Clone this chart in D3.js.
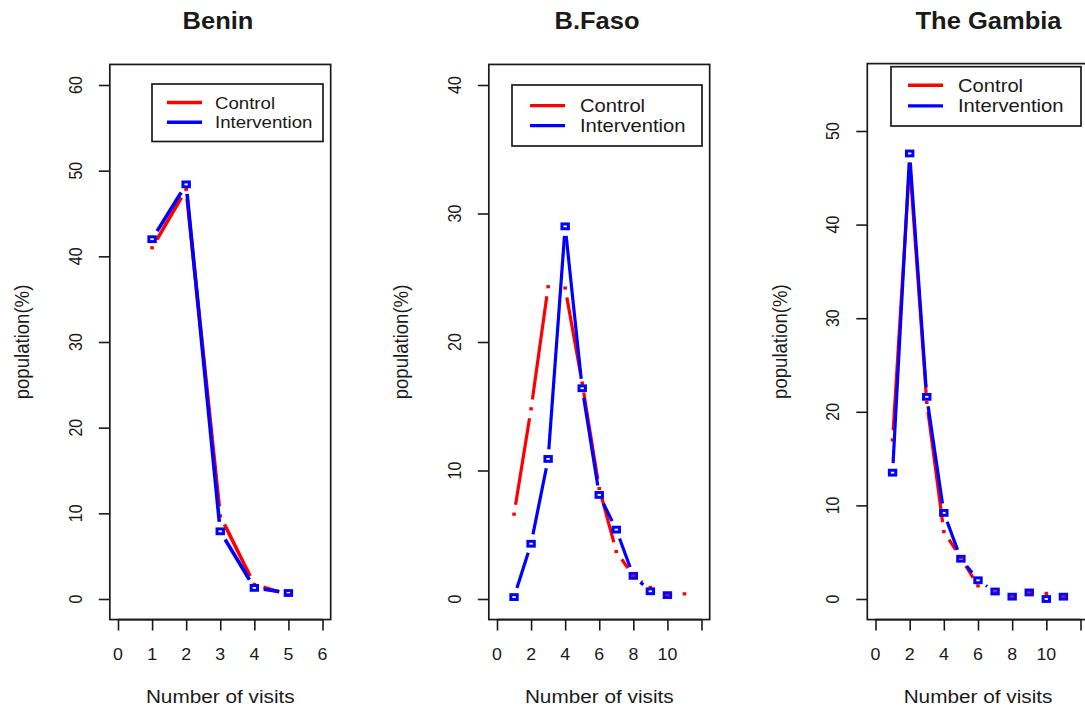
<!DOCTYPE html>
<html>
<head>
<meta charset="utf-8">
<script src="https://cdn.jsdelivr.net/npm/d3@7"></script>
<style>
  html, body { margin: 0; padding: 0; background: #fff; }
  svg { display: block; }
</style>
</head>
<body>
<div id="chart"></div>
<script>
// ---------------- DATA ----------------
const panelTitles = ["Benin", "B.Faso", "The Gambia"];
const seriesNames = ["Control", "Intervention"];
const xAxisTitle = "Number of visits";
const yAxisTitle = "population(%)";

const beninVisits = [1, 2, 3, 4, 5];
const beninControl = [41.0, 47.8, 9.7, 1.7, 0.5];
const beninIntervention = [42.0, 48.4, 7.9, 1.3, 0.7];

const bfasoVisitsControl = [1, 2, 3, 4, 5, 6, 7, 8, 9, 10, 11];
const bfasoControl = [6.6, 14.8, 24.3, 24.2, 16.8, 8.6, 3.7, 1.8, 0.9, 0.3, 0.4];
const bfasoVisitsIntervention = [1, 2, 3, 4, 5, 6, 7, 8, 9, 10];
const bfasoIntervention = [0.15, 4.3, 10.9, 29.0, 16.4, 8.1, 5.4, 1.8, 0.6, 0.3];

const gambiaVisits = [1, 2, 3, 4, 5, 6, 7, 8, 9, 10, 11];
const gambiaControl = [17.0, 46.5, 21.0, 7.2, 4.4, 1.4, 0.7, 0.2, 0.7, 0.6, 0.2];
const gambiaIntervention = [13.5, 47.6, 21.6, 9.2, 4.3, 2.0, 0.8, 0.25, 0.7, 0.0, 0.25];

const beninXTicks = [0, 1, 2, 3, 4, 5, 6];
const beninXTickLabels = ["0", "1", "2", "3", "4", "5", "6"];
const wideXTicks = [0, 2, 4, 6, 8, 10, 12];
const wideXTickLabels = ["0", "2", "4", "6", "8", "10", ""];
const beninYTicks = [0, 10, 20, 30, 40, 50, 60];
const bfasoYTicks = [0, 10, 20, 30, 40];
const gambiaYTicks = [0, 10, 20, 30, 40, 50];

// ---------------- LAYOUT ----------------
const W = 1085, H = 711;
const SX = 1.11;            // horizontal stretch of the original raster
const FONT = "'Liberation Sans', Arial, Helvetica, sans-serif";
const INK = "#1a1a1a";
const RED = "#ff0000", BLUE = "#0000ff";
const GAP = 9.5;
const yPix = [599, 85];

const panels = [
  { title: panelTitles[0], titleX: 218, xDomain: [0, 6], xRange: [118, 322.5],
    xTicks: beninXTicks, xLabels: beninXTickLabels,
    yDomain: [0, 60], yRange: yPix, yTicks: beninYTicks,
    control: [beninVisits, beninControl], interv: [beninVisits, beninIntervention],
    lw: 3.6,
    legend: { x: 152, y: 84, w: 171, h: 57.5, fs: 16.8, l0: 167, l1: 202, tx: 215, y1: 102.5, y2: 122.3 } },
  { title: panelTitles[1], titleX: 597, xDomain: [0, 12], xRange: [497, 701.5],
    xTicks: wideXTicks, xLabels: wideXTickLabels,
    yDomain: [0, 40], yRange: yPix, yTicks: bfasoYTicks,
    control: [bfasoVisitsControl, bfasoControl], interv: [bfasoVisitsIntervention, bfasoIntervention],
    lw: 3.2,
    legend: { x: 512, y: 85, w: 190, h: 61, fs: 18.2, l0: 530, l1: 565, tx: 580, y1: 105.6, y2: 125.6 } },
  { title: panelTitles[2], titleX: 988.5, xDomain: [0, 12], xRange: [875.5, 1080.5],
    xTicks: wideXTicks, xLabels: wideXTickLabels,
    yDomain: [0, 55], yRange: [599, 84.2], yTicks: gambiaYTicks,
    control: [gambiaVisits, gambiaControl], interv: [gambiaVisits, gambiaIntervention],
    lw: 3.2,
    legend: { x: 891, y: 66.7, w: 190, h: 59.3, fs: 18.2, l0: 908, l1: 943, tx: 958, y1: 85.3, y2: 105.9 } }
];

const svg = d3.select("#chart").append("svg")
  .attr("width", W).attr("height", H)
  .attr("viewBox", `0 0 ${W} ${H}`);
svg.append("rect").attr("width", W).attr("height", H).attr("fill", "#fff");

function stretchedText(g, x, y, txt, opts) {
  const rot = opts.rotate ? " rotate(-90)" : "";
  return g.append("text")
    .attr("transform", `translate(${x},${y}) scale(${SX},1)${rot}`)
    .attr("text-anchor", opts.anchor || "middle")
    .attr("font-family", FONT)
    .attr("font-size", opts.size)
    .attr("font-weight", opts.weight || "normal")
    .attr("fill", INK)
    .attr("dy", opts.dy || 0)
    .text(txt);
}

function gappedSegments(pts, gap) {
  const segs = [];
  for (let i = 0; i < pts.length - 1; i++) {
    const [x0, y0] = pts[i], [x1, y1] = pts[i + 1];
    const dx = x1 - x0, dy = y1 - y0, L = Math.hypot(dx, dy);
    if (L <= 2 * gap) continue;
    const ux = dx / L, uy = dy / L;
    segs.push([[x0 + ux * gap, y0 + uy * gap], [x1 - ux * gap, y1 - uy * gap]]);
  }
  return segs;
}

const line = d3.line();

panels.forEach(p => {
  const g = svg.append("g");
  const x = d3.scaleLinear().domain(p.xDomain).range(p.xRange);
  const y = d3.scaleLinear().domain(p.yDomain).range(p.yRange);
  const xs = p.xDomain[1] - p.xDomain[0], ys = p.yDomain[1] - p.yDomain[0];
  const fx0 = x(p.xDomain[0] - 0.04 * xs), fx1 = x(p.xDomain[1] + 0.04 * xs);
  const fy0 = y(p.yDomain[1] + 0.04 * ys), fy1 = y(p.yDomain[0] - 0.04 * ys);

  // series: control first, intervention on top
  [[p.control, RED, "dot"], [p.interv, BLUE, "square"]].forEach(([ser, col, shape]) => {
    const pts = ser[0].map((v, i) => [x(v), y(ser[1][i])]);
    gappedSegments(pts, GAP).forEach(seg => {
      g.append("path").attr("d", line(seg))
        .attr("fill", "none").attr("stroke", col)
        .attr("stroke-width", p.lw).attr("stroke-linecap", "butt");
    });
    if (shape === "dot") {
      g.selectAll(null).data(pts).enter().append("rect")
        .attr("x", d => d[0] - 1.8).attr("y", d => d[1] - 1.6)
        .attr("width", 3.6).attr("height", 3.2).attr("fill", col);
    } else {
      g.selectAll(null).data(pts).enter().append("rect")
        .attr("x", d => d[0] - 3.2).attr("y", d => d[1] - 2.4)
        .attr("width", 6.4).attr("height", 4.8)
        .attr("fill", "none").attr("stroke", col).attr("stroke-width", 3);
    }
  });

  // frame
  g.append("rect").attr("x", fx0).attr("y", fy0)
    .attr("width", fx1 - fx0).attr("height", fy1 - fy0)
    .attr("fill", "none").attr("stroke", INK).attr("stroke-width", 1.7);

  // x axis
  const xAxis = d3.axisBottom(x).tickValues(p.xTicks).tickSize(11).tickSizeOuter(0).tickFormat("");
  const xa = g.append("g").attr("transform", `translate(0,${fy1})`).call(xAxis);
  xa.select(".domain").remove();
  xa.selectAll(".tick line").attr("stroke", INK).attr("stroke-width", 1.6);
  g.append("line").attr("x1", x(p.xTicks[0])).attr("x2", x(p.xTicks[p.xTicks.length - 1]))
    .attr("y1", fy1).attr("y2", fy1).attr("stroke", INK).attr("stroke-width", 1.7);
  p.xTicks.forEach((t, i) => {
    if (p.xLabels[i]) stretchedText(g, x(t), 660, p.xLabels[i], { size: 16 });
  });
  stretchedText(g, (fx0 + fx1) / 2, 703, xAxisTitle, { size: 18.7 });

  // y axis
  const yAxis = d3.axisLeft(y).tickValues(p.yTicks).tickSize(11).tickSizeOuter(0).tickFormat("");
  const ya = g.append("g").attr("transform", `translate(${fx0},0)`).call(yAxis);
  ya.select(".domain").remove();
  ya.selectAll(".tick line").attr("stroke", INK).attr("stroke-width", 1.6);
  p.yTicks.forEach(t => {
    stretchedText(g, fx0 - 28, y(t), String(t), { size: 16, rotate: true });
  });
  stretchedText(g, fx0 - 80.5, (fy0 + fy1) / 2, yAxisTitle, { size: 18.6, rotate: true });

  // title
  stretchedText(g, p.titleX, 29, p.title, { size: 23, weight: "bold" });

  // legend
  const L = p.legend;
  g.append("rect").attr("x", L.x).attr("y", L.y).attr("width", L.w).attr("height", L.h)
    .attr("fill", "#fff").attr("stroke", INK).attr("stroke-width", 1.7);
  [[seriesNames[0], RED, L.y1], [seriesNames[1], BLUE, L.y2]].forEach(([name, col, ly]) => {
    g.append("line").attr("x1", L.l0).attr("x2", L.l1).attr("y1", ly).attr("y2", ly)
      .attr("stroke", col).attr("stroke-width", 3.4);
    stretchedText(g, L.tx, ly, name, { size: L.fs, anchor: "start", dy: "0.36em" });
  });
});
</script>
</body>
</html>
